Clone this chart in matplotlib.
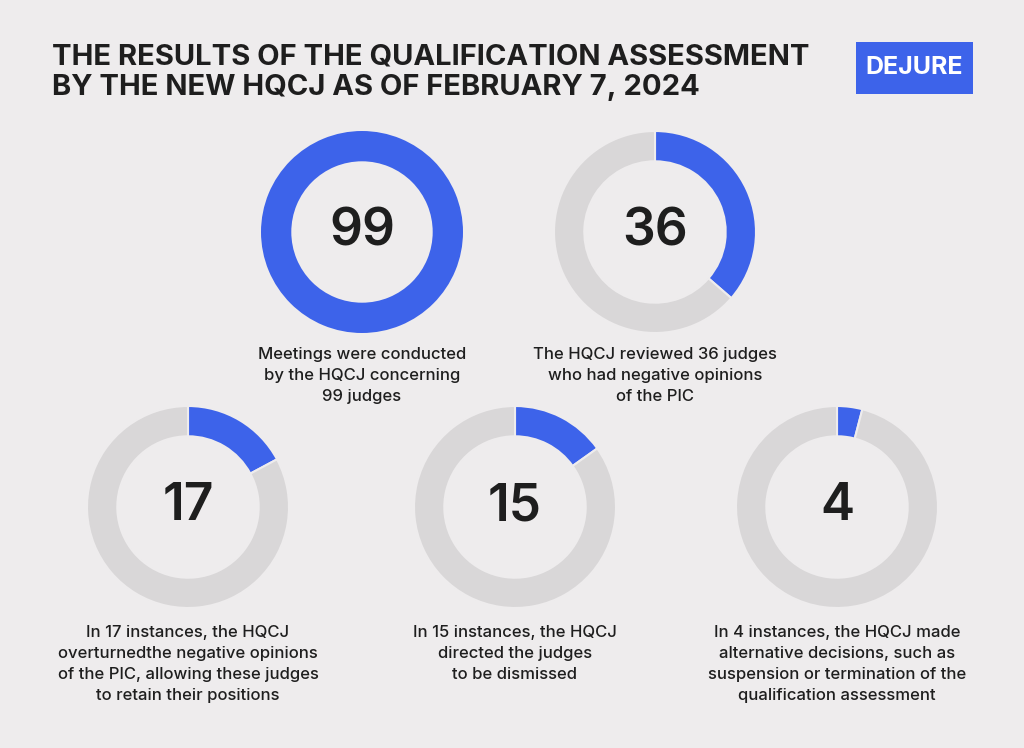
import matplotlib
matplotlib.use("Agg")
import matplotlib.pyplot as plt
from matplotlib.patches import Rectangle

total = 99
values = [99, 36, 17, 15, 4]
labels = ["99", "36", "17", "15", "4"]
captions = [
    "Meetings were conducted\nby the HQCJ concerning\n99 judges",
    "The HQCJ reviewed 36 judges\nwho had negative opinions\nof the PIC",
    "In 17 instances, the HQCJ\noverturnedthe negative opinions\nof the PIC, allowing these judges\nto retain their positions",
    "In 15 instances, the HQCJ\ndirected the judges\nto be dismissed",
    "In 4 instances, the HQCJ made\nalternative decisions, such as\nsuspension or termination of the\nqualification assessment",
]
centers = [(362, 232), (655, 232), (188, 507), (515, 507), (837, 507)]
cap_y = [347, 347, 625, 625, 625]

BG = "#EEECED"; BLUE = "#3D63EA"; GREY = "#D9D7D8"; DARK = "#1E1E1E"
W, H = 1024, 748
plt.rcParams['font.family'] = ['Inter', 'DejaVu Sans']
fig = plt.figure(figsize=(W/100, H/100), dpi=100, facecolor=BG)

R = 101
for v, lab, (cx, cy), cap, yy in zip(values, labels, centers, captions, cap_y):
    ax = fig.add_axes([(cx-R)/W, 1-(cy+R)/H, 2*R/W, 2*R/H])
    ax.set_facecolor(BG)
    if v >= total:
        ax.pie([1], colors=[BLUE], startangle=90, counterclock=False,
               wedgeprops=dict(width=0.3))
    else:
        ax.pie([v, total-v], colors=[BLUE, GREY], startangle=90, counterclock=False,
               wedgeprops=dict(width=0.3, edgecolor=BG, linewidth=1.5))
    ax.set_xlim(-1, 1); ax.set_ylim(-1, 1)
    ax.set_aspect("equal")
    ax.text(0, 0, lab, ha="center", va="center", fontsize=37, fontweight="semibold", color=DARK)
    fig.text(cx/W, 1-yy/H, cap, ha="center", va="top", fontsize=12,
             fontweight="medium", color=DARK, linespacing=1.5)

fig.text(52/W, 1-44/H, "THE RESULTS OF THE QUALIFICATION ASSESSMENT\nBY THE NEW HQCJ AS OF FEBRUARY 7, 2024",
         ha="left", va="top", fontsize=21, fontweight="bold", color=DARK, linespacing=1.15)
fig.patches.append(Rectangle((856/W, 1-94/H), 117/W, 52/H, transform=fig.transFigure,
                             facecolor=BLUE, edgecolor="none"))
fig.text(914.5/W, 1-68/H, "DEJURE", ha="center", va="center", fontsize=18,
         fontweight="bold", color="white")
fig.savefig("out.png", dpi=100, facecolor=BG)
